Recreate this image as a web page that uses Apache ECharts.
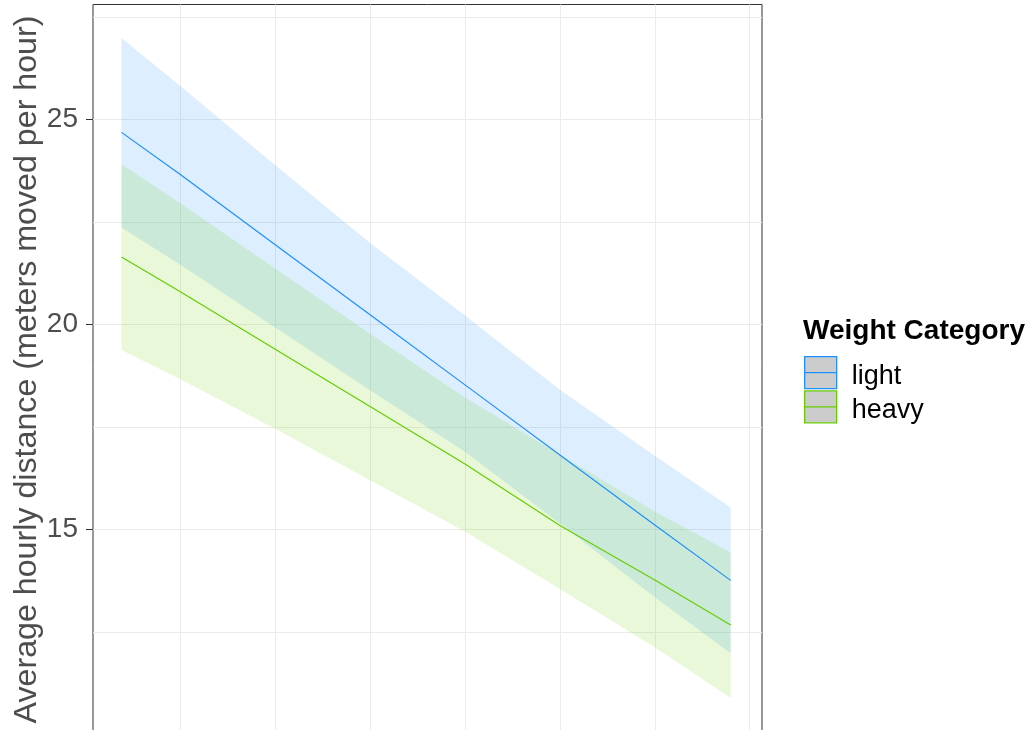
<!DOCTYPE html>
<html>
<head>
<meta charset="utf-8">
<script src="https://cdn.jsdelivr.net/npm/echarts@6/dist/echarts.min.js"></script>
<style>
  html, body { margin: 0; padding: 0; background: #ffffff; }
  #chart { width: 1035px; height: 730px; }
</style>
</head>
<body>
<div id="chart"></div>
<script>
// Predictor values at which the fitted curves are evaluated
const xValues = [0.38, 1, 2, 3, 4, 5, 6, 6.8];

// Fitted average hourly distance and 95% band, light animals
const lightFit   = [24.69, 23.66, 21.95, 20.24, 18.53, 16.82, 15.11, 13.76];
const lightUpper = [26.99, 25.82, 23.89, 21.99, 20.22, 18.41, 16.80, 15.54];
const lightLower = [22.37, 21.46, 19.93, 18.40, 16.90, 15.15, 13.35, 11.98];

// Fitted average hourly distance and 95% band, heavy animals
const heavyFit   = [21.65, 20.80, 19.40, 18.00, 16.60, 15.10, 13.77, 12.67];
const heavyUpper = [23.91, 22.96, 21.37, 19.78, 18.22, 16.83, 15.44, 14.44];
const heavyLower = [19.38, 18.67, 17.46, 16.20, 14.95, 13.55, 12.13, 10.89];

// Labelled y ticks
const yTickValues = [15, 20, 25];

const categories = ['light', 'heavy'];
const lineColors = { light: '#1E90FF', heavy: '#66CD00' };
const bandColors = { light: 'rgba(30,144,255,0.15)', heavy: 'rgba(102,205,0,0.15)' };

const FONT = '"Liberation Sans", Arial, sans-serif';

function pairs(xs, ys) { return xs.map((x, i) => [x, ys[i]]); }

// A confidence band drawn as one polygon: upper edge forward, lower edge back
function bandSeries(key, lower, upper) {
  const data = xValues.map((x, i) => [x, lower[i], upper[i]]);
  return {
    type: 'custom', name: key + ' band', silent: true, z: 1, clip: true,
    encode: { x: 0, y: [1, 2] },
    data: data,
    renderItem: function (params, api) {
      if (params.dataIndex !== 0) return null;
      const top = data.map(d => api.coord([d[0], d[2]]));
      const bottom = data.map(d => api.coord([d[0], d[1]])).reverse();
      return {
        type: 'polygon',
        shape: { points: top.concat(bottom) },
        style: { fill: bandColors[key], stroke: null }
      };
    }
  };
}

function fitSeries(key, fit) {
  return {
    type: 'line', name: key, data: pairs(xValues, fit), symbol: 'none',
    silent: true, emphasis: { disabled: true }, z: 3,
    itemStyle: { color: lineColors[key] },
    lineStyle: { color: lineColors[key], width: 1.2 }
  };
}

const chart = echarts.init(document.getElementById('chart'), null, { renderer: 'canvas' });

const yRange = { min: 10, max: 27.81 };

chart.setOption({
  animation: false,
  backgroundColor: '#ffffff',
  textStyle: { fontFamily: FONT },
  title: {
    text: 'Weight Category',
    left: 803, top: 317, padding: 0,
    textStyle: { fontFamily: FONT, fontSize: 28, fontWeight: 'bold', color: '#000000' }
  },
  legend: {
    data: categories.map(k => ({
      name: k,
      itemStyle: { color: '#CCCCCC', borderColor: lineColors[k], borderWidth: 1.3 }
    })),
    icon: 'path://M0,0 L32,0 L32,32 L0,32 Z M0,16 L32,16',
    orient: 'vertical',
    left: 804, top: 356, padding: 0,
    itemWidth: 32, itemHeight: 32.5, itemGap: 0,
    selectedMode: false,
    formatter: '{t|{name}}',
    textStyle: {
      fontFamily: FONT, fontSize: 27, color: '#000000',
      rich: { t: { fontFamily: FONT, fontSize: 27, color: '#000000', padding: [8, 0, 0, 10] } }
    }
  },
  grid: {
    left: 93, right: 273, top: 4.5, bottom: -4.5,
    outerBoundsMode: 'none', containLabel: false,
    show: true, borderColor: '#333333', borderWidth: 1, backgroundColor: '#ffffff'
  },
  xAxis: {
    type: 'value', min: 0.08, max: 7.13, splitNumber: 7,
    axisLine: { show: false }, axisTick: { show: false }, axisLabel: { show: false },
    splitLine: { show: true, showMinLine: false, showMaxLine: false,
                 lineStyle: { color: '#EBEBEB', width: 1 } }
  },
  yAxis: [
    {
      // major and minor grid lines every 2.5
      type: 'value', min: yRange.min, max: yRange.max, interval: 2.5,
      axisLine: { show: false }, axisTick: { show: false }, axisLabel: { show: false },
      splitLine: { show: true, showMinLine: false, showMaxLine: false,
                   lineStyle: { color: '#EBEBEB', width: 1 } }
    },
    {
      // labelled ticks and axis title
      type: 'value', min: yRange.min, max: yRange.max, interval: 5, position: 'left',
      name: 'Average hourly distance (meters moved per hour)',
      nameLocation: 'middle', nameGap: 50, nameMoveOverlap: false,
      nameTextStyle: { fontFamily: FONT, fontSize: 32.2, color: '#4D4D4D' },
      axisLine: { show: false },
      axisTick: { show: true, length: 7, customValues: yTickValues,
                  lineStyle: { color: '#333333', width: 1 } },
      axisLabel: {
        show: true, margin: 15, customValues: yTickValues,
        fontFamily: FONT, fontSize: 28, color: '#4D4D4D'
      },
      splitLine: { show: false }
    }
  ],
  series: [
    bandSeries('light', lightLower, lightUpper),
    bandSeries('heavy', heavyLower, heavyUpper),
    fitSeries('light', lightFit),
    fitSeries('heavy', heavyFit)
  ]
});
</script>
</body>
</html>
